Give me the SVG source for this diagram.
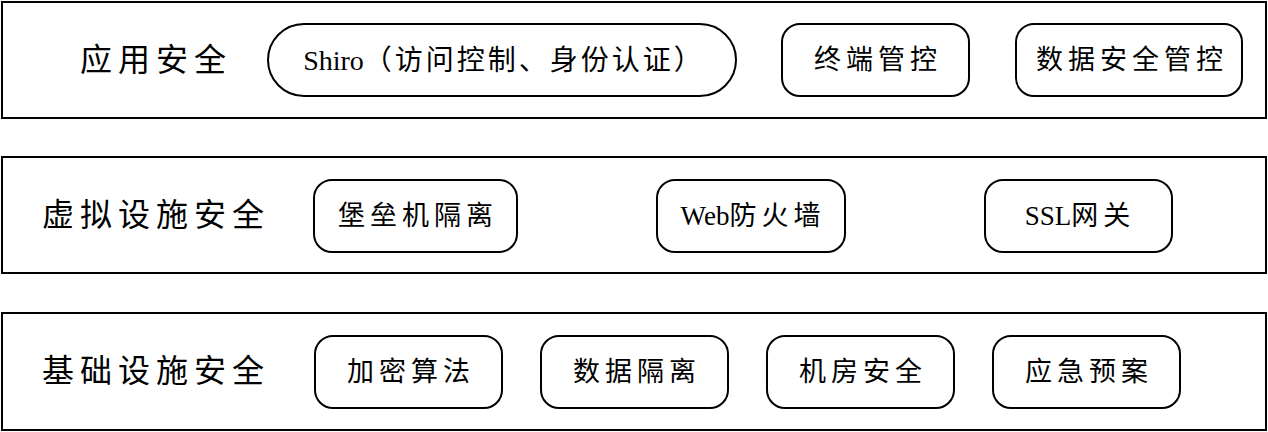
<svg xmlns="http://www.w3.org/2000/svg" width="1268" height="432" viewBox="0 0 1268 432">
<style>
.layer{fill:#fff;stroke:#000;stroke-width:2}
.box{fill:#fff;stroke:#000;stroke-width:2}
.t{font-family:"Liberation Serif","Noto Sans CJK SC",serif;font-size:27px;letter-spacing:5px;text-anchor:middle;dominant-baseline:central}
.h{font-family:"Liberation Serif","Noto Sans CJK SC",serif;font-size:32px;letter-spacing:6px;dominant-baseline:central}
.l{letter-spacing:0}
</style>
<rect width="1268" height="432" fill="#fff"/>
<g id="layer1"><rect class="layer" x="2" y="2" width="1264" height="116"/><text class="h" x="80" y="60">应用安全</text></g>
<g id="layer2"><rect class="layer" x="2" y="157" width="1264" height="116"/><text class="h" x="42" y="215">虚拟设施安全</text></g>
<g id="layer3"><rect class="layer" x="2" y="313" width="1264" height="117"/><text class="h" x="42" y="371">基础设施安全</text></g>
<g id="shiro"><rect class="box" x="268" y="24" width="468" height="72" rx="36"/><text class="t" x="504" y="60" style="letter-spacing:3px;font-size:28px"><tspan class="l">Shiro</tspan>（访问控制、身份认证）</text></g>
<g id="terminal"><rect class="box" x="782" y="24" width="187" height="72" rx="18"/><text class="t" x="878" y="60">终端管控</text></g>
<g id="datasec"><rect class="box" x="1016" y="24" width="226" height="72" rx="18"/><text class="t" x="1132" y="60">数据安全管控</text></g>
<g id="bastion"><rect class="box" x="314" y="180" width="203" height="72" rx="18"/><text class="t" x="418" y="216">堡垒机隔离</text></g>
<g id="waf"><rect class="box" x="657" y="180" width="188" height="72" rx="18"/><text class="t" x="753" y="216"><tspan class="l">Web</tspan>防火墙</text></g>
<g id="ssl"><rect class="box" x="985" y="180" width="187" height="72" rx="18"/><text class="t" x="1080" y="216"><tspan class="l">SSL</tspan>网关</text></g>
<g id="crypto"><rect class="box" x="315" y="336" width="187" height="72" rx="18"/><text class="t" x="411" y="372">加密算法</text></g>
<g id="dataiso"><rect class="box" x="541" y="336" width="187" height="72" rx="18"/><text class="t" x="637" y="372">数据隔离</text></g>
<g id="room"><rect class="box" x="767" y="336" width="187" height="72" rx="18"/><text class="t" x="863" y="372">机房安全</text></g>
<g id="plan"><rect class="box" x="993" y="336" width="187" height="72" rx="18"/><text class="t" x="1089" y="372">应急预案</text></g>
<g id="connectors"></g>
</svg>
